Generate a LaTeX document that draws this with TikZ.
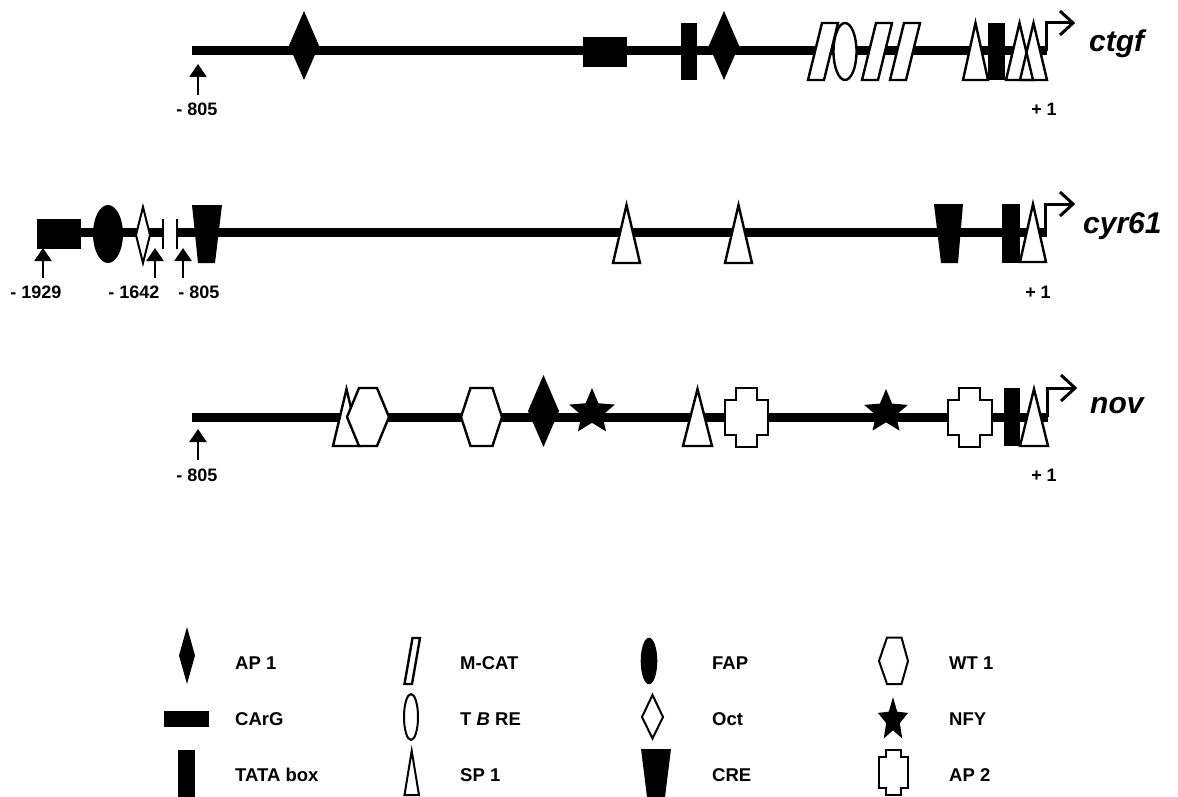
\documentclass[tikz,border=0pt]{standalone}
\usepackage{fontspec}
\setmainfont{Liberation Sans}
\usetikzlibrary{arrows.meta,calc}
\newcommand\dnaDiamond[5]{\path[#5] (#1,#2) -- (#1+#4,{(#2+#3)/2}) -- (#1,#3) -- (#1-#4,{(#2+#3)/2}) -- cycle;}
\newcommand\dnaTri[4]{\path[wshape] (#1,#4) -- (#2,#4) -- ({(#1+#2)/2},#3) -- cycle;}
\newcommand\dnaTrap[6]{\fill (#1,#5) -- (#2,#5) -- (#4,#6) -- (#3,#6) -- cycle;}
\newcommand\dnaPar[5]{\path[wshape] (#1,#5) -- (#1+#2,#5) -- (#1+#2+#3,#4) -- (#1+#3,#4) -- cycle;}
\newcommand\dnaHex[5]{\path[wshape] (#1,{(#4+#5)/2}) -- (#1+#3,#4) -- (#2-#3,#4) -- (#2,{(#4+#5)/2}) -- (#2-#3,#5) -- (#1+#3,#5) -- cycle;}
\newcommand\dnaCross[8]{\path[wshape] (#1,#5) -- (#2,#5) -- (#2,#6) -- (#4,#6) -- (#4,#7) -- (#2,#7) -- (#2,#8) -- (#1,#8) -- (#1,#7) -- (#3,#7) -- (#3,#6) -- (#1,#6) -- cycle;}
\newcommand\dnaStar[4]{\fill[shift={(#1,#2)},yscale=#4] (270:#3) -- (306:{0.45*#3}) -- (342:#3) -- (18:{0.45*#3}) -- (54:#3) -- (90:{0.45*#3}) -- (126:#3) -- (162:{0.45*#3}) -- (198:#3) -- (234:{0.45*#3}) -- cycle;}
\tikzset{
  wshape/.style={fill=white,draw=black,line width=2.4pt,line join=miter},
  bshape/.style={fill=black},
  dna/.style={line width=9pt},
  tick/.style={line width=2.7pt},
  posarrow/.style={line width=2.4pt,-{Triangle[width=17pt,length=13pt]}},
  prom/.style={line width=3pt,line join=miter},
  lab/.style={font=\fontsize{18}{21}\selectfont\bfseries,anchor=base,inner sep=0pt},
  leg/.style={font=\fontsize{18.5}{21}\selectfont\bfseries,anchor=base west,inner sep=0pt},
  gene/.style={font=\fontsize{30}{34}\selectfont\bfseries\itshape,anchor=base west,inner sep=0pt}
}
\begin{document}
\begin{tikzpicture}[x=1pt,y=-1pt]
\useasboundingbox (0,0) rectangle (1178,797);
% ===================== ctgf =====================
\coordinate (c1s) at (192,51); \coordinate (c1e) at (1047,51);
\draw[dna] (c1s) -- (c1e);
\dnaDiamond{304}{11}{80}{15}{bshape}
\fill (583,37) rectangle (627,67);
\fill (681,23) rectangle (697,80);
\dnaDiamond{724}{11}{80}{15}{bshape}
\dnaPar{808}{16}{14}{23}{80}
\path[wshape] (845,51.5) ellipse [x radius=11.5, y radius=28.5];
\dnaPar{862}{16}{14}{23}{80}
\dnaPar{890}{16}{14}{23}{80}
\dnaTri{963}{988}{23}{80}
\fill (988,23) rectangle (1005,80);
\path[fill=white] (1006,80) -- (1033,80) -- (1019.5,23) -- cycle;
\path[fill=white] (1020,80) -- (1047,80) -- (1033.5,23) -- cycle;
\draw[line width=2.4pt] (1006,80) -- (1033,80) -- (1019.5,23) -- cycle;
\draw[line width=2.4pt] (1020,80) -- (1047,80) -- (1033.5,23) -- cycle;
\coordinate (p1a) at (1046,51); \coordinate (p1b) at (1073,23);
\draw[prom] (p1a) |- (p1b);
\draw[prom] ($(p1b)+(-13,-12)$) -- (p1b) -- ($(p1b)+(-13,12)$);
\node[gene] (gctgf) at (1089,52) {ctgf};
\coordinate (a1b) at (198,95); \coordinate (a1t) at (198,64);
\draw[posarrow] (a1b) -- (a1t);
\node[lab] (l1a) at (197,116) {- 805};
\node[lab] (l1b) at (1044,116) {+ 1};
% ===================== cyr61 =====================
\coordinate (c2a) at (60,232); \coordinate (c2b) at (163,232);
\draw[dna] (c2a) -- (c2b);
\coordinate (c2s) at (177,232); \coordinate (c2e) at (1047,232);
\draw[dna] (c2s) -- (c2e);
\draw[tick] (163,219) -- (163,249);
\draw[tick] (177,219) -- (177,249);
\fill (37,219) rectangle (81,249);
\fill (108,234) ellipse [x radius=15, y radius=29];
\path[fill=white,draw=black,line width=2pt] (143,207) -- (150,235) -- (143,263) -- (136,235) -- cycle;
\dnaTrap{192}{222}{198}{215}{205}{263}
\dnaTri{613}{640}{205}{263}
\dnaTri{725}{752}{205}{263}
\dnaTrap{934}{963}{941}{958}{204}{263}
\fill (1002,204) rectangle (1020,263);
\dnaTri{1020}{1046}{204}{262}
\coordinate (p2a) at (1045,232); \coordinate (p2b) at (1073,204);
\draw[prom] (p2a) |- (p2b);
\draw[prom] ($(p2b)+(-13,-12)$) -- (p2b) -- ($(p2b)+(-13,12)$);
\node[gene] (gcyr) at (1083,233) {cyr61};
\coordinate (a2b) at (43,278); \coordinate (a2t) at (43,248);
\draw[posarrow] (a2b) -- (a2t);
\coordinate (a3b) at (155,278); \coordinate (a3t) at (155,248);
\draw[posarrow] (a3b) -- (a3t);
\coordinate (a4b) at (183,278); \coordinate (a4t) at (183,248);
\draw[posarrow] (a4b) -- (a4t);
\node[lab] (l2a) at (36,298) {- 1929};
\node[lab] (l2b) at (134,298) {- 1642};
\node[lab] (l2c) at (199,298) {- 805};
\node[lab] (l2d) at (1038,298) {+ 1};
% ===================== nov =====================
\coordinate (c3s) at (192,417); \coordinate (c3e) at (1048,417);
\draw[dna] (c3s) -- (c3e);
\dnaTri{333}{360}{389}{446}
\dnaHex{347}{389}{12}{388}{446}
\dnaHex{461}{502}{9.5}{388}{446}
\dnaDiamond{543.5}{375}{447}{15.5}{bshape}
\dnaStar{592}{412}{24}{1}
\dnaTri{683}{712}{389}{446}
\dnaCross{736}{757}{725}{768}{388}{400}{435}{447}
\dnaStar{886}{412}{23}{1}
\dnaCross{959}{980}{948}{992}{388}{400}{435}{447}
\fill (1004,388) rectangle (1020,446);
\dnaTri{1020}{1048}{389}{446}
\coordinate (p3a) at (1047,417); \coordinate (p3b) at (1075,388);
\draw[prom] (p3a) |- (p3b);
\draw[prom] ($(p3b)+(-14,-13)$) -- (p3b) -- ($(p3b)+(-14,13)$);
\node[gene] (gnov) at (1090,413) {nov};
\coordinate (a5b) at (198,460); \coordinate (a5t) at (198,429);
\draw[posarrow] (a5b) -- (a5t);
\node[lab] (l3a) at (197,481) {- 805};
\node[lab] (l3b) at (1044,481) {+ 1};
% ===================== legend =====================
\dnaDiamond{187}{627}{684}{8}{bshape}
\node[leg] (t1) at (235,669) {AP 1};
\fill (164,711) rectangle (209,727);
\node[leg] (t2) at (235,725.5) {CArG};
\fill (178,750) rectangle (195,797);
\node[leg] (t3) at (235,781.5) {TATA box};
\dnaPar{404.5}{7.5}{8}{638}{684}
\node[leg] (t4) at (460,669) {M-CAT};
\path[wshape,line width=2pt] (411,717) ellipse [x radius=7, y radius=23];
\node[leg] (t5) at (460,725.5) {T \textit{B} RE};
\path[fill=white,draw=black,line width=2pt] (404.5,795) -- (419,795) -- (411.7,751) -- cycle;
\node[leg] (t6) at (460,781.5) {SP 1};
\fill (649,661) ellipse [x radius=8.3, y radius=23.3];
\node[leg] (t7) at (712,669) {FAP};
\path[fill=white,draw=black,line width=2pt] (652.5,695) -- (663,717) -- (652.5,738.5) -- (642,717) -- cycle;
\node[leg] (t8) at (712,725.5) {Oct};
\dnaTrap{641}{671}{647}{665}{749}{797}
\node[leg] (t9) at (712,781.5) {CRE};
\path[fill=white,draw=black,line width=2pt] (879,661) -- (887,637.5) -- (901.5,637.5) -- (908,661) -- (901.5,684) -- (887,684) -- cycle;
\node[leg] (t10) at (949,669) {WT 1};
\dnaStar{893}{720}{15.8}{1.45}
\node[leg] (t11) at (949,725.5) {NFY};
\path[fill=white,draw=black,line width=2pt] (886,750) -- (901,750) -- (901,757) -- (908,757) -- (908,788) -- (901,788) -- (901,795) -- (886,795) -- (886,788) -- (879,788) -- (879,757) -- (886,757) -- cycle;
\node[leg] (t12) at (949,781.5) {AP 2};
\end{tikzpicture}
\end{document}
